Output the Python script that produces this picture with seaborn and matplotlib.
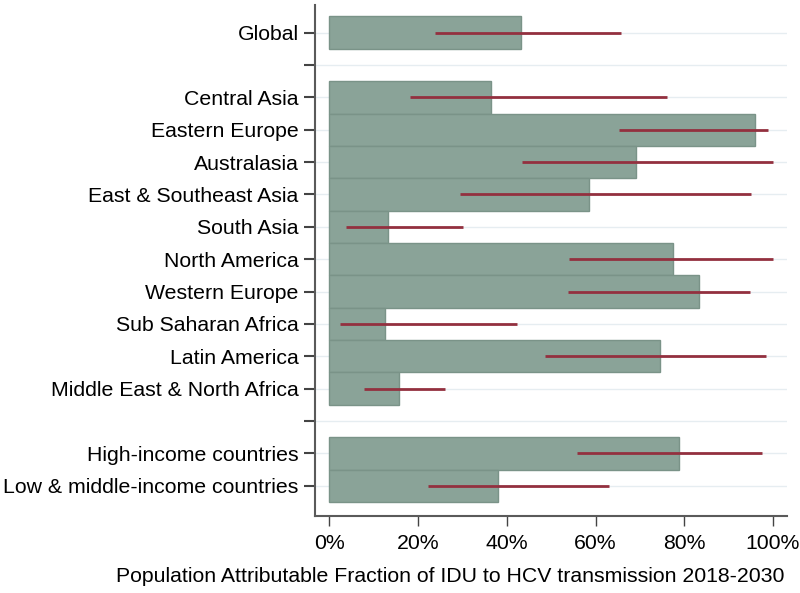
import pandas as pd
import matplotlib.pyplot as plt
import seaborn as sns

# values (fraction in %)
regions = ['Global', 'Central Asia', 'Eastern Europe', 'Australasia',
           'East & Southeast Asia', 'South Asia', 'North America', 'Western Europe',
           'Sub Saharan Africa', 'Latin America', 'Middle East & North Africa',
           'High-income countries', 'Low & middle-income countries']
paf = [43.2, 36.5, 95.9, 69.1, 58.5, 13.2, 77.4, 83.3, 12.6, 74.5, 15.8, 78.8, 38.0]
ci_low = [23.9, 18.2, 65.3, 43.4, 29.5, 3.8, 54.1, 53.8, 2.3, 48.5, 7.7, 55.9, 22.3]
ci_high = [65.8, 76.1, 98.9, 100.0, 95.0, 30.1, 100.0, 94.8, 42.3, 98.4, 26.1, 97.5, 63.1]

# row order, with two empty separator rows
order = ['Global', '_gap1', 'Central Asia', 'Eastern Europe', 'Australasia',
         'East & Southeast Asia', 'South Asia', 'North America', 'Western Europe',
         'Sub Saharan Africa', 'Latin America', 'Middle East & North Africa', '_gap2',
         'High-income countries', 'Low & middle-income countries']

df = pd.DataFrame({'Region': regions, 'PAF': paf, 'lo': ci_low, 'hi': ci_high})

sns.set_style('white')
plt.rcParams['font.family'] = ['Liberation Sans', 'DejaVu Sans']

fig = plt.figure(figsize=(8, 5.93), dpi=100)
ax = fig.add_axes([0.394, 0.130, 0.590, 0.862])

sns.barplot(data=df, x='PAF', y='Region', order=order, orient='h', ax=ax,
            color='#8aa398', saturation=1, width=1.0, edgecolor='#7a9388',
            linewidth=1, errorbar=None)

# confidence intervals
ypos = [order.index(r) for r in df['Region']]
ax.hlines(ypos, df['lo'], df['hi'], color='#93303f', linewidth=2, zorder=3)

ax.set_xlim(-3.2, 103.2)
ax.set_ylim(len(order) - 1 + 0.93, -0.86)
ax.set_xticks([0, 20, 40, 60, 80, 100])
ax.set_xticklabels([f'{v}%' for v in [0, 20, 40, 60, 80, 100]])
ax.set_yticks(range(len(order)))
ax.set_yticklabels(['' if o.startswith('_gap') else o for o in order])

ax.set_axisbelow(True)
ax.yaxis.grid(True, color='#e6edf1', linewidth=1)
ax.xaxis.grid(False)

for s in ['top', 'right']:
    ax.spines[s].set_visible(False)
for s in ['left', 'bottom']:
    ax.spines[s].set_color('#5a5a5a')
    ax.spines[s].set_linewidth(1.5)

ax.tick_params(axis='y', left=True, length=8, width=1.5, color='#444444',
               labelsize=15.3, labelcolor='black', pad=4)
ax.tick_params(axis='x', bottom=True, length=7, width=1, color='#444444',
               labelsize=15.3, labelcolor='black', pad=6)
ax.set_xlabel('')
ax.set_ylabel('')

fig.text(0.981, 0.012, 'Population Attributable Fraction of IDU to HCV transmission 2018-2030',
         ha='right', va='bottom', fontsize=15.3, color='black')

fig.savefig('out.png', dpi=100)
